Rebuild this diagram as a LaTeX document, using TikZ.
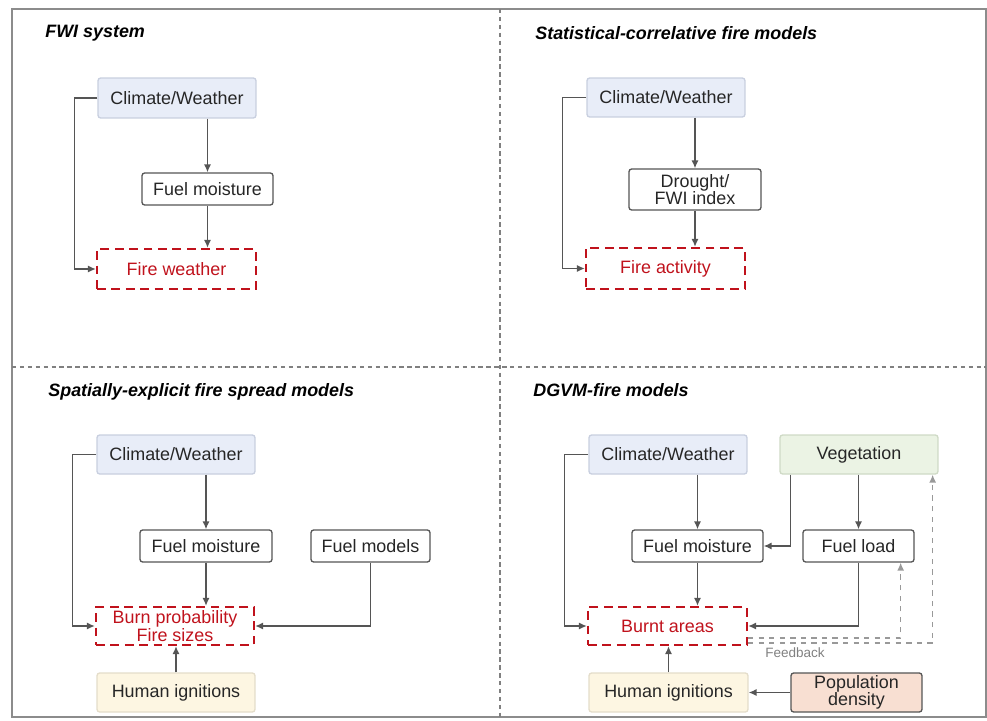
\documentclass[tikz,border=0pt]{standalone}
\usepackage{fontspec}
\setmainfont{Liberation Sans}
\usepackage{tikz}
\usetikzlibrary{arrows.meta, positioning}

\definecolor{climfill}{HTML}{E8EDF8}
\definecolor{climline}{HTML}{C8CFDF}
\definecolor{vegfill}{HTML}{EBF3E4}
\definecolor{vegline}{HTML}{CFDAC6}
\definecolor{humfill}{HTML}{FDF6E2}
\definecolor{humline}{HTML}{E4DDCA}
\definecolor{popfill}{HTML}{F8DFD2}
\definecolor{firered}{HTML}{C0121C}
\definecolor{linegrey}{HTML}{555555}

\begin{document}
\begin{tikzpicture}[x=0.02cm,y=-0.02cm,
  font=\fontsize{10.2}{9.9}\selectfont,
  box/.style={draw=linegrey,line width=0.75pt,rounded corners=1.5pt,fill=white,text=black!85,align=center,inner sep=1pt},
  clim/.style={box,draw=climline,fill=climfill},
  veg/.style={box,draw=vegline,fill=vegfill},
  hum/.style={box,draw=humline,fill=humfill},
  pop/.style={box,fill=popfill},
  fire/.style={draw=firered,line width=1.3pt,dash pattern=on 5pt off 3.2pt,text=firered,align=center,inner sep=1pt},
  title/.style={anchor=west,inner sep=0pt,font=\fontsize{10.2}{12}\selectfont\bfseries\itshape},
  arr/.style={draw=linegrey,line width=0.8pt,-{Latex[length=4.5pt,width=4pt]}},
  fback/.style={arr,dashed,draw=gray!80}]
\useasboundingbox (0,0) rectangle (987,720);
\draw[gray!90,line width=0.6pt] (12,9) rectangle (986,717);
\draw[gray,line width=0.6pt,dash pattern=on 2.5pt off 2pt] (500,9) -- (500,717) (12,367) -- (986,367);

% FWI system
\node[title] (t1) at (45,33) {FWI system};
\node[clim,minimum width=3.16cm,minimum height=0.8cm] (cw1) at (177,98) {Climate/Weather};
\node[box,minimum width=2.62cm,minimum height=0.64cm] (fm1) at (207.5,189) {Fuel moisture};
\node[fire,minimum width=3.18cm,minimum height=0.8cm] (fw1) at (176.5,269) {Fire weather};
\draw[arr] (cw1.south -| fm1) -- (fm1.north);
\draw[arr] (fm1.south) -- (fm1.south |- fw1.north);
\draw[arr] (cw1.west) -- ++(-23,0) |- (fw1.west);

% statistical-correlative
\node[title] (t2) at (535,33) {Statistical-correlative fire models};
\node[clim,minimum width=3.16cm,minimum height=0.78cm] (cw2) at (666,97.5) {Climate/Weather};
\node[box,minimum width=2.64cm,minimum height=0.82cm] (dr2) at (695,189.5) {Drought/\\FWI index};
\node[fire,minimum width=3.18cm,minimum height=0.82cm] (fa2) at (665.5,268.5) {Fire activity};
\draw[arr] (cw2.south -| dr2) -- (dr2.north);
\draw[arr] (dr2.south) -- (dr2.south |- fa2.north);
\draw[arr] (cw2.west) -- ++(-24,0) |- (fa2.west);

% spatially-explicit
\node[title] (t3) at (48,392) {Spatially-explicit fire spread models};
\node[clim,minimum width=3.16cm,minimum height=0.78cm] (cw3) at (176,454.5) {Climate/Weather};
\node[box,minimum width=2.64cm,minimum height=0.64cm] (fm3) at (206,546) {Fuel moisture};
\node[box,minimum width=2.38cm,minimum height=0.64cm] (fmod3) at (370.5,546) {Fuel models};
\node[fire,minimum width=3.16cm,minimum height=0.76cm] (bp3) at (175,626) {Burn probability\\Fire sizes};
\node[hum,minimum width=3.16cm,minimum height=0.78cm] (hi3) at (176,692.5) {Human ignitions};
\draw[arr] (cw3.south -| fm3) -- (fm3.north);
\draw[arr] (fm3.south) -- (fm3.south |- bp3.north);
\draw[arr] (cw3.west) -- ++(-24,0) |- (bp3.west);
\draw[arr] (fmod3.south) |- (bp3.east);
\draw[arr] (hi3.north) -- (hi3.north |- bp3.south);

% DGVM-fire
\node[title] (t4) at (533,390) {DGVM-fire models};
\node[clim,minimum width=3.16cm,minimum height=0.78cm] (cw4) at (668,454.5) {Climate/Weather};
\node[veg,minimum width=3.16cm,minimum height=0.78cm] (veg4) at (859,454.5) {Vegetation};
\node[box,minimum width=2.62cm,minimum height=0.64cm] (fm4) at (697.5,546) {Fuel moisture};
\node[box,minimum width=2.22cm,minimum height=0.64cm] (fl4) at (858.5,546) {Fuel load};
\node[fire,minimum width=3.18cm,minimum height=0.76cm] (ba4) at (667.5,626) {Burnt areas};
\node[hum,minimum width=3.18cm,minimum height=0.78cm] (hi4) at (668.5,692.5) {Human ignitions};
\node[pop,minimum width=2.62cm,minimum height=0.78cm] (pd4) at (856.5,692.5) {Population\\density};
\node[text=gray,font=\fontsize{7.7}{9}\selectfont] (fb) at (795,653) {Feedback};
\draw[arr] (cw4.south -| fm4) -- (fm4.north);
\draw[arr] ([xshift=0.22cm]veg4.south west) |- (fm4.east);
\draw[arr] (veg4.south -| fl4) -- (fl4.north);
\draw[arr] (fm4.south) -- (fm4.south |- ba4.north);
\draw[arr] (fl4.south) |- (ba4.east);
\draw[arr] (cw4.west) -- ++(-24,0) |- (ba4.west);
\draw[arr] (hi4.north) -- (hi4.north |- ba4.south);
\draw[arr] (pd4.west) -- (hi4.east);
\draw[fback] ([yshift=-0.24cm]ba4.east) -| ([xshift=-0.28cm]fl4.south east);
\draw[fback] ([yshift=-0.34cm]ba4.east) -| ([xshift=-0.12cm]veg4.south east);
\end{tikzpicture}
\end{document}
